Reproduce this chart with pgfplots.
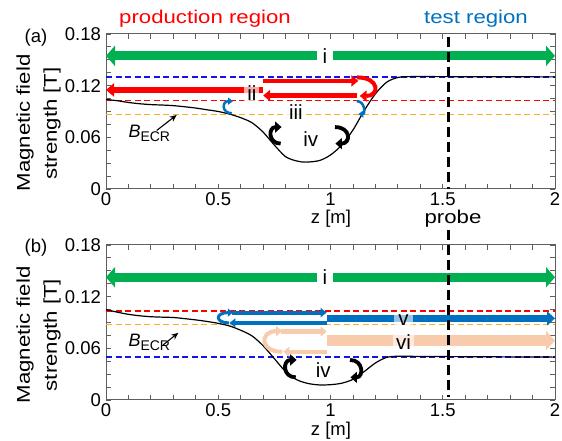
\documentclass[border=0pt]{standalone}
\usepackage{pgfplots}
\pgfplotsset{compat=1.18}
\usepackage{fontspec}
\setmainfont{Liberation Sans}
\usepackage{graphicx}
\usetikzlibrary{arrows.meta}

\definecolor{cgreen}{RGB}{0,176,80}
\definecolor{cred}{RGB}{255,0,0}
\definecolor{cblue}{RGB}{0,112,192}
\definecolor{dblue}{RGB}{20,20,230}
\definecolor{corange}{RGB}{250,175,40}
\definecolor{cpeach}{RGB}{248,203,173}
\definecolor{axgray}{RGB}{95,95,95}

\newcommand\sx[1]{\scalebox{1.2}[1]{#1}}
\newcommand\fs{\fontsize{18.5}{22}\selectfont}

\pgfplotstableread{
z B
0 0.104
0.05 0.1025
0.1 0.1005
0.15 0.099
0.2 0.098
0.25 0.0975
0.3 0.0968
0.35 0.0955
0.4 0.0940
0.45 0.0920
0.5 0.0900
0.55 0.0870
0.6 0.0828
0.65 0.0770
0.7 0.0660
0.75 0.0510
0.8 0.0375
0.85 0.0325
0.89 0.0312
0.95 0.0330
1.0 0.0395
1.05 0.0510
1.1 0.0685
1.15 0.0910
1.2 0.1105
1.25 0.1240
1.3 0.1295
1.35 0.1305
1.5 0.1305
1.75 0.1303
2.0 0.1302
}\curveA

\pgfplotstableread{
z B
0 0.1050
0.05 0.1020
0.1 0.0995
0.15 0.0978
0.2 0.0967
0.25 0.0962
0.3 0.0958
0.35 0.0945
0.4 0.0930
0.45 0.0912
0.5 0.0890
0.55 0.0860
0.6 0.0810
0.65 0.0745
0.7 0.0630
0.75 0.0480
0.8 0.0330
0.85 0.0235
0.9 0.0192
0.95 0.0175
1.0 0.0178
1.05 0.0195
1.1 0.0240
1.15 0.0330
1.2 0.0430
1.25 0.0495
1.3 0.0508
1.4 0.0506
1.6 0.0503
2.0 0.0498
}\curveB

\pgfplotsset{
  myax/.style={
    scale only axis, width=449pt,
    xmin=0,xmax=2,ymin=0,ymax=0.18,
    xtick={0,0.5,1,1.5,2}, xticklabels={0,0.5,1,1.5,2},
    ytick={0,0.06,0.12,0.18}, yticklabels={0,0.06,0.12,0.18},
    minor x tick num=4, minor y tick num=3,
    tick align=inside,
    major tick length=5pt, minor tick length=5pt,
    axis line style={draw=axgray,line width=1pt},
    tick style={draw=axgray,line width=0.9pt},
    minor tick style={draw=axgray,line width=0.9pt},
    tick label style={font=\fontsize{18.5}{21}\selectfont},
    yticklabel style={xshift=-1.5pt},
    xticklabel style={yshift=-0.5pt},
    /pgf/number format/assume math mode=true,
    scaled ticks=false,
    clip=false,
  },
}
\tikzset{lbl/.style={font=\fontsize{20.5}{24}\selectfont, inner sep=1pt}}

\begin{document}
\begin{tikzpicture}
\useasboundingbox (0,0) rectangle (562pt,441pt);

% ---------------- panel (a)
\begin{axis}[myax, at={(106pt,252pt)}, anchor=south west, height=155pt]
\addplot[dblue, line width=1.2pt, dash pattern=on 6pt off 3.5pt] coordinates {(0,0.130) (2,0.130)};
\addplot[cred, line width=1.2pt, dash pattern=on 6pt off 3.5pt] coordinates {(0,0.1027) (2,0.1027)};
\addplot[corange, line width=1.2pt, dash pattern=on 6pt off 3.5pt] coordinates {(0,0.0868) (2,0.0868)};
\addplot[black, line width=1.2pt, smooth] table[x=z,y=B] {\curveA};
% green arrow i
\addplot[cgreen, line width=9pt, {Triangle[length=9pt,width=20pt]}-{Triangle[length=9pt,width=20pt]}] coordinates {(0,0.1546) (2,0.1546)};
% red arrows ii
\addplot[cred, line width=6pt, -{Triangle[length=8pt,width=13pt]}] coordinates {(0.70,0.115) (0.0,0.115)};
\addplot[cred, line width=4.5pt, -{Triangle[length=7pt,width=11pt]}] coordinates {(0.70,0.1255) (1.124,0.1255)};
\addplot[cred, line width=4.5pt, -{Triangle[length=7pt,width=11pt]}] coordinates {(1.117,0.1085) (0.70,0.1085)};
\draw[cred, line width=4pt, -{Triangle[length=7pt,width=11pt]}] (axis cs:1.118,0.1296) .. controls (axis cs:1.22,0.1296) and (axis cs:1.22,0.108) .. (axis cs:1.13,0.108);
% blue small arrows iii
\draw[cblue, line width=2.5pt, -{Triangle[length=5pt,width=7pt]}] (axis cs:0.56,0.088) .. controls (axis cs:0.515,0.088) and (axis cs:0.515,0.102) .. (axis cs:0.566,0.102);
\draw[cblue, line width=2.5pt, -{Triangle[length=5pt,width=7pt]}] (axis cs:1.117,0.102) .. controls (axis cs:1.155,0.102) and (axis cs:1.155,0.087) .. (axis cs:1.124,0.087);
% black arrows iv
\draw[black, line width=3.8pt, -{Triangle[length=6.5pt,width=11pt]}] (axis cs:0.778,0.0527) .. controls (axis cs:0.722,0.0527) and (axis cs:0.722,0.0719) .. (axis cs:0.782,0.0719);
\draw[black, line width=3.8pt, -{Triangle[length=6.5pt,width=11pt]}] (axis cs:1.02,0.0719) .. controls (axis cs:1.092,0.0719) and (axis cs:1.092,0.0527) .. (axis cs:1.022,0.0527);
% B_ECR
\draw[black, line width=1.1pt, -{Stealth[length=7pt,width=6pt]}] (axis cs:0.226,0.068) -- (axis cs:0.315,0.086);
\node[anchor=base west, inner sep=0pt, font=\fontsize{18}{20}\selectfont] at (axis cs:0.0995,0.0603) {\itshape B\upshape\raisebox{-4pt}{\fontsize{14}{15}\selectfont ECR}};
% labels
\node[lbl, fill=white, inner xsep=6pt] at (axis cs:0.975,0.1546) {i};
\node[lbl, fill=white, fill opacity=0.65, text opacity=1, inner xsep=3pt, inner ysep=2pt] at (axis cs:0.65,0.111) {ii};
\node[lbl, fill=white, fill opacity=0.7, text opacity=1, inner xsep=3pt, inner ysep=0pt] at (axis cs:0.846,0.089) {iii};
\node[lbl] at (axis cs:0.912,0.0585) {iv};
% probe line
\addplot[black, line width=3pt, dash pattern=on 10pt off 5pt] coordinates {(1.525,0.1765) (1.525,0)};
\end{axis}

% ---------------- panel (b)
\begin{axis}[myax, at={(106pt,41pt)}, anchor=south west, height=155pt]
\addplot[cred, line width=1.2pt, dash pattern=on 6pt off 3.5pt] coordinates {(0,0.1034) (2,0.1034)};
\addplot[corange, line width=1.2pt, dash pattern=on 6pt off 3.5pt] coordinates {(0,0.0879) (2,0.0879)};
\addplot[dblue, line width=1.2pt, dash pattern=on 6pt off 3.5pt] coordinates {(0,0.0500) (2,0.0500)};
\addplot[black, line width=1.2pt, smooth] table[x=z,y=B] {\curveB};
% green arrow i
\addplot[cgreen, line width=9pt, {Triangle[length=9pt,width=20pt]}-{Triangle[length=9pt,width=20pt]}] coordinates {(0,0.1425) (2,0.1425)};
% peach arrows vi
\addplot[cpeach, line width=11pt, -{Triangle[length=9pt,width=19pt]}] coordinates {(0.983,0.069) (2,0.069)};
\addplot[cpeach, line width=4.5pt, -{Triangle[length=6pt,width=10pt]}] coordinates {(0.78,0.0795) (0.983,0.0795)};
\addplot[cpeach, line width=4.5pt, -{Triangle[length=6pt,width=10pt]}] coordinates {(0.983,0.056) (0.79,0.056)};
\draw[cpeach, line width=4pt, -{Triangle[length=6pt,width=10pt]}] (axis cs:0.785,0.056) .. controls (axis cs:0.683,0.056) and (axis cs:0.683,0.080) .. (axis cs:0.785,0.080);
% blue arrows v
\addplot[cblue, line width=7pt, -{Triangle[length=8pt,width=14pt]}] coordinates {(0.983,0.0948) (2,0.0948)};
\addplot[cblue, line width=4pt, -{Triangle[length=6pt,width=9pt]}] coordinates {(0.56,0.1015) (0.983,0.1015)};
\addplot[cblue, line width=4.5pt, -{Triangle[length=6pt,width=9pt]}] coordinates {(0.983,0.0895) (0.55,0.0895)};
\draw[cblue, line width=3pt, -{Triangle[length=5pt,width=8pt]}] (axis cs:0.548,0.0895) .. controls (axis cs:0.485,0.0895) and (axis cs:0.485,0.1015) .. (axis cs:0.565,0.1015);
% black arrows iv
\draw[black, line width=3.8pt, -{Triangle[length=6.5pt,width=11pt]}] (axis cs:0.845,0.0263) .. controls (axis cs:0.786,0.0263) and (axis cs:0.786,0.0465) .. (axis cs:0.849,0.0465);
\draw[black, line width=3.8pt, -{Triangle[length=6.5pt,width=11pt]}] (axis cs:1.087,0.0465) .. controls (axis cs:1.148,0.0465) and (axis cs:1.148,0.0263) .. (axis cs:1.089,0.0263);
% B_ECR
\draw[black, line width=1.1pt, -{Stealth[length=7pt,width=6pt]}] (axis cs:0.254,0.0639) -- (axis cs:0.322,0.078);
\node[anchor=base west, inner sep=0pt, font=\fontsize{18}{20}\selectfont] at (axis cs:0.0995,0.0619) {\itshape B\upshape\raisebox{-4pt}{\fontsize{14}{15}\selectfont ECR}};
% labels
\node[lbl, fill=white, inner xsep=6pt] at (axis cs:0.975,0.1425) {i};
\node[lbl, fill=white, fill opacity=0.6, text opacity=1, inner xsep=4pt, inner ysep=0pt] at (axis cs:1.325,0.0925) {v};
\node[lbl, fill=white, fill opacity=0.6, text opacity=1, inner xsep=3pt, inner ysep=0pt] at (axis cs:1.325,0.067) {vi};
\node[lbl] at (axis cs:0.968,0.0348) {iv};
% probe line
\addplot[black, line width=3pt, dash pattern=on 10pt off 5pt] coordinates {(1.525,0.197) (1.525,0.0035)};
\end{axis}

% ---------------- texts
\node[anchor=base, text=cred, font=\fs, inner sep=0pt] at (205pt,417.5pt) {\sx{production region}};
\node[anchor=base, text=cblue, font=\fs, inner sep=0pt] at (476pt,417pt) {\sx{test region}};
\node[font=\fs] at (36pt,403pt) {(a)};
\node[font=\fs] at (36pt,193.5pt) {(b)};
\node[rotate=90, font=\fs, inner sep=0pt] at (25pt,318pt) {\sx{Magnetic field}};
\node[rotate=90, font=\fs, inner sep=0pt] at (52pt,317.5pt) {\sx{strength [T]}};
\node[rotate=90, font=\fs, inner sep=0pt] at (25pt,106pt) {\sx{Magnetic field}};
\node[rotate=90, font=\fs, inner sep=0pt] at (52pt,106pt) {\sx{strength [T]}};
\node[anchor=base, font=\fs, inner sep=0pt] at (331pt,217pt) {z [m]};
\node[anchor=base, font=\fs, inner sep=0pt] at (453pt,217pt) {\sx{probe}};
\node[anchor=base, font=\fs, inner sep=0pt] at (331pt,5.5pt) {z [m]};
\end{tikzpicture}
\end{document}
